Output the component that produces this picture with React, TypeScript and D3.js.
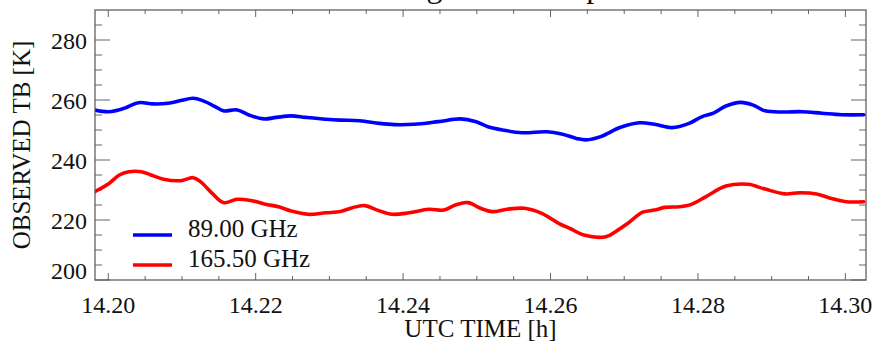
import React from "react";
import * as d3 from "d3";

const timesBlue = [14.1981, 14.2001, 14.2021, 14.2041, 14.2061, 14.2081, 14.2098, 14.2115, 14.2128, 14.2145, 14.2156, 14.2175, 14.2191, 14.2211, 14.2228, 14.2248, 14.2268, 14.2295, 14.2315, 14.2341, 14.2368, 14.2388, 14.2415, 14.2448, 14.2478, 14.2498, 14.2515, 14.2535, 14.2561, 14.2595, 14.2615, 14.2635, 14.2648, 14.2668, 14.2695, 14.2721, 14.2741, 14.2765, 14.2788, 14.2805, 14.2821, 14.2838, 14.2858, 14.2875, 14.2891, 14.2915, 14.2941, 14.2968, 14.2995, 14.3025];
const tb89 = [256.7, 256.1, 257.2, 259.1, 258.7, 258.9, 259.8, 260.6, 259.8, 257.8, 256.4, 256.7, 255.0, 253.7, 254.2, 254.7, 254.2, 253.6, 253.3, 253.1, 252.2, 251.8, 251.9, 252.8, 253.7, 252.8, 251.1, 250.0, 249.1, 249.4, 248.7, 247.2, 246.7, 247.8, 250.9, 252.4, 251.9, 250.8, 252.2, 254.4, 255.6, 258.0, 259.2, 258.3, 256.4, 256.0, 256.1, 255.6, 255.1, 255.1];

const timesRed = [14.1981, 14.2001, 14.2015, 14.2028, 14.2045, 14.2058, 14.2075, 14.2098, 14.2115, 14.2125, 14.2141, 14.2156, 14.2175, 14.2195, 14.2215, 14.2231, 14.2248, 14.2271, 14.2295, 14.2315, 14.2331, 14.2348, 14.2365, 14.2385, 14.2408, 14.2435, 14.2455, 14.2471, 14.2488, 14.2505, 14.2521, 14.2541, 14.2565, 14.2588, 14.2611, 14.2628, 14.2645, 14.2675, 14.2688, 14.2705, 14.2725, 14.2741, 14.2755, 14.2775, 14.2791, 14.2811, 14.2838, 14.2868, 14.2891, 14.2918, 14.2938, 14.2961, 14.2981, 14.3001, 14.3025];
const tb165 = [229.4, 232.2, 235.0, 236.1, 236.1, 235.0, 233.6, 233.1, 234.1, 232.8, 228.9, 225.8, 226.9, 226.4, 225.2, 224.4, 223.0, 221.9, 222.4, 222.8, 224.1, 224.8, 223.3, 221.9, 222.4, 223.6, 223.3, 225.0, 225.8, 223.9, 222.8, 223.6, 223.9, 222.2, 218.9, 217.0, 215.0, 214.4, 216.1, 218.9, 222.6, 223.3, 224.2, 224.4, 225.2, 227.8, 231.3, 231.9, 230.3, 228.7, 229.1, 228.7, 227.2, 226.1, 226.1];

const xMajorTicks = [14.2, 14.22, 14.24, 14.26, 14.28, 14.3];
const xTickLabels = ["14.20", "14.22", "14.24", "14.26", "14.28", "14.30"];
const yMajorTicks = [200, 220, 240, 260, 280];
const yTickLabels = ["200", "220", "240", "260", "280"];
const legendLabels = ["89.00 GHz", "165.50 GHz"];
const seriesColors = ["#0000ff", "#ff0000"];

const W = 880;
const H = 345;
const L = 95;
const R = 866;
const T = 10;
const B = 280;
const FONT = "'Liberation Serif', 'Times New Roman', serif";

export default function App() {
  const x = d3.scaleLinear().domain([14.1982, 14.3028]).range([L, R]);
  const y = d3.scaleLinear().domain([200, 290]).range([B, T]);

  const line = d3
    .line<[number, number]>()
    .x((d) => x(d[0]))
    .y((d) => y(d[1]))
    .curve(d3.curveCatmullRom.alpha(0.5));

  const blueData: [number, number][] = timesBlue.map((t, i) => [t, tb89[i]]);
  const redData: [number, number][] = timesRed.map((t, i) => [t, tb165[i]]);

  const xMinor = d3.range(0, 22).map((i) => 14.195 + i * 0.005).filter((v) => x(v) > L && x(v) < R);
  const yMinor = d3.range(200, 291, 5).filter((v) => v % 20 !== 0 && v > 200 && v < 290);

  const tickColor = "#666";

  return (
    <svg width={W} height={H} style={{ position: "absolute", left: 0, top: 0, background: "#fff" }}>
      <defs>
        <clipPath id="plotclip">
          <rect x={L} y={T} width={R - L} height={B - T} />
        </clipPath>
      </defs>
      <rect x={0} y={0} width={W} height={H} fill="#fff" />
      <text x={473} y={-3} textAnchor="middle" fontFamily={FONT} fontSize={32} fill="#111">
        Observed Brightness Temperature
      </text>

      {/* x ticks bottom and top */}
      {xMinor.map((v, i) => {
        const major = xMajorTicks.some((m) => Math.abs(m - v) < 1e-6);
        const len = major ? 7 : 4;
        return (
          <g key={"xt" + i} stroke={tickColor} strokeWidth={1}>
            <line x1={x(v)} x2={x(v)} y1={B} y2={B - len} />
            <line x1={x(v)} x2={x(v)} y1={T} y2={T + len} />
          </g>
        );
      })}
      {/* y ticks left and right */}
      {yMinor.map((v, i) => (
        <g key={"ym" + i} stroke={tickColor} strokeWidth={1}>
          <line x1={L} x2={L + 7} y1={y(v)} y2={y(v)} />
          <line x1={R} x2={R - 7} y1={y(v)} y2={y(v)} />
        </g>
      ))}
      {yMajorTicks.map((v, i) => (
        <g key={"yM" + i} stroke={tickColor} strokeWidth={1}>
          <line x1={L} x2={L + 15} y1={y(v)} y2={y(v)} />
          <line x1={R} x2={R - 15} y1={y(v)} y2={y(v)} />
        </g>
      ))}

      <g clipPath="url(#plotclip)" fill="none" strokeLinejoin="round" strokeLinecap="round">
        <path d={line(blueData) || ""} stroke={seriesColors[0]} strokeWidth={3.6} />
        <path d={line(redData) || ""} stroke={seriesColors[1]} strokeWidth={3.6} />
      </g>

      <rect x={L} y={T} width={R - L} height={B - T} fill="none" stroke="#555" strokeWidth={1.2} />

      {xMajorTicks.map((v, i) => (
        <text key={"xl" + i} x={x(v)} y={313} textAnchor="middle" fontFamily={FONT} fontSize={24} fill="#111">
          {xTickLabels[i]}
        </text>
      ))}
      {yMajorTicks.map((v, i) => (
        <text
          key={"yl" + i}
          x={87}
          y={Math.min(y(v), B - 10) + 8.5}
          textAnchor="end"
          fontFamily={FONT}
          fontSize={24}
          fill="#111"
        >
          {yTickLabels[i]}
        </text>
      ))}

      <text x={(L + R) / 2} y={337} textAnchor="middle" fontFamily={FONT} fontSize={25} fill="#111">
        UTC TIME [h]
      </text>
      <text
        transform={`translate(30,${(T + B) / 2}) rotate(-90)`}
        textAnchor="middle"
        fontFamily={FONT}
        fontSize={25}
        fill="#111"
      >
        OBSERVED TB [K]
      </text>

      {legendLabels.map((lab, i) => (
        <g key={"lg" + i}>
          <line x1={133} x2={172} y1={235 + i * 30} y2={235 + i * 30} stroke={seriesColors[i]} strokeWidth={3.6} />
          <text x={188} y={237 + i * 30} fontFamily={FONT} fontSize={25} fill="#111">
            {lab}
          </text>
        </g>
      ))}
    </svg>
  );
}
